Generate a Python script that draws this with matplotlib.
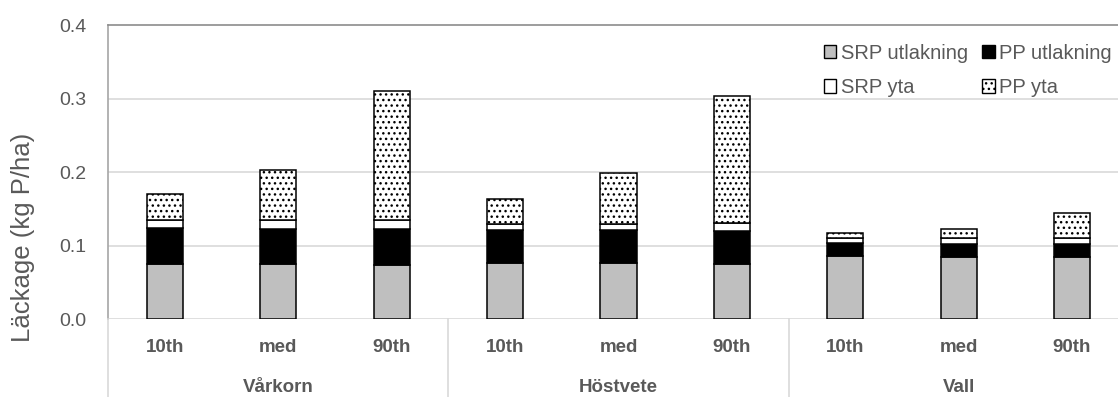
import matplotlib
matplotlib.use("Agg")
import matplotlib.pyplot as plt
from matplotlib.patches import Patch
from matplotlib.lines import Line2D
import numpy as np

# Phosphorus losses per crop and weather percentile
crops = ["Vårkorn", "Höstvete", "Vall"]
percentiles = ["10th", "med", "90th"]

srp_utlakning = [0.075, 0.0745, 0.0736, 0.0758, 0.0758, 0.075, 0.0858, 0.085, 0.085]
pp_utlakning = [0.0486, 0.0481, 0.0484, 0.0452, 0.0452, 0.045, 0.0172, 0.017, 0.017]
srp_yta = [0.0114, 0.0119, 0.013, 0.0084, 0.009, 0.011, 0.007, 0.008, 0.009]
pp_yta = [0.036, 0.0685, 0.176, 0.0346, 0.0685, 0.173, 0.0067, 0.013, 0.034]

series_names = ["SRP utlakning", "PP utlakning", "SRP yta", "PP yta"]
yticks = [0.0, 0.1, 0.2, 0.3, 0.4]

W, H = 1118, 397
TEXT = "#595959"
GRID = "#d9d9d9"
AXIS = "#8c8c8c"
SANS = ["Liberation Sans", "DejaVu Sans"]

fig = plt.figure(figsize=(W / 100, H / 100), dpi=100)
# plot area runs past the right edge of the canvas
x0, x1 = 108.3, 1128.7
y0, y1 = 319.0, 25.5
ax = fig.add_axes([x0 / W, (H - y0) / H, (x1 - x0) / W, (y0 - y1) / H])

n = len(crops) * len(percentiles)
x = np.arange(n)
bw = 0.318
bottom = np.zeros(n)
styles = [
    dict(color="#bfbfbf", hatch=None),
    dict(color="black", hatch=None),
    dict(color="white", hatch=None),
    dict(color="white", hatch="..."),
]
for vals, st in zip([srp_utlakning, pp_utlakning, srp_yta, pp_yta], styles):
    v = np.array(vals)
    ax.bar(x, v, bw, bottom=bottom, color=st["color"], edgecolor="black",
           linewidth=1.1, hatch=st["hatch"], zorder=3)
    bottom += v

ax.set_xlim(-0.5, n - 0.5)
ax.set_ylim(0, 0.4)
ax.set_yticks(yticks)
ax.set_yticklabels([f"{t:.1f}" for t in yticks], family=SANS, fontsize=14, color=TEXT)
ax.tick_params(axis="y", length=0, pad=15.5)
ax.set_xticks([])
for t in yticks[:-1]:
    ax.axhline(t, color=GRID, lw=1.2, zorder=1)

for s in ["right", "bottom"]:
    ax.spines[s].set_visible(False)
ax.spines["top"].set_color(AXIS)
ax.spines["top"].set_linewidth(1.2)
ax.spines["left"].set_color("#a6a6a6")
ax.spines["left"].set_linewidth(1.2)

# two-level category axis below the plot
lab_y = (H - 347.5) / H
grp_y = (H - 387.5) / H
for i in range(n):
    xf = (x0 + (i + 0.5) * (x1 - x0) / n) / W
    fig.text(xf, lab_y, percentiles[i % 3], ha="center", va="center",
             family=SANS, fontsize=13.5, fontweight="bold", color=TEXT)
for g, crop in enumerate(crops):
    xf = (x0 + (3 * g + 1.5) * (x1 - x0) / n) / W
    fig.text(xf, grp_y, crop, ha="center", va="center",
             family=SANS, fontsize=13.5, fontweight="bold", color=TEXT)
for g in range(len(crops) + 1):
    xs = x0 + 3 * g * (x1 - x0) / n
    fig.add_artist(Line2D([xs / W, xs / W], [0, (H - y0) / H], color=GRID, lw=1.2))

fig.text(23 / W, (H - 237.5) / H, "Läckage (kg P/ha)", rotation=90, ha="center",
         va="center", family=SANS, fontsize=18.5, color=TEXT)

# legend filled row by row: matplotlib fills columns, so interleave
handles = [Patch(facecolor=st["color"], edgecolor="black", hatch=st["hatch"], lw=1.0)
           for st in styles]
order = [0, 2, 1, 3]
ax.legend([handles[k] for k in order], [series_names[k] for k in order],
          ncol=2, frameon=False,
          prop=dict(family=SANS, size=14.5), labelcolor=TEXT,
          handlelength=0.62, handleheight=0.62, handletextpad=0.22,
          columnspacing=0.7, labelspacing=0.75, borderpad=0, borderaxespad=0,
          loc="upper left", bbox_to_anchor=((824 - x0) / (x1 - x0), (y0 - 44) / (y0 - y1)))

fig.savefig("out.png", dpi=100)
